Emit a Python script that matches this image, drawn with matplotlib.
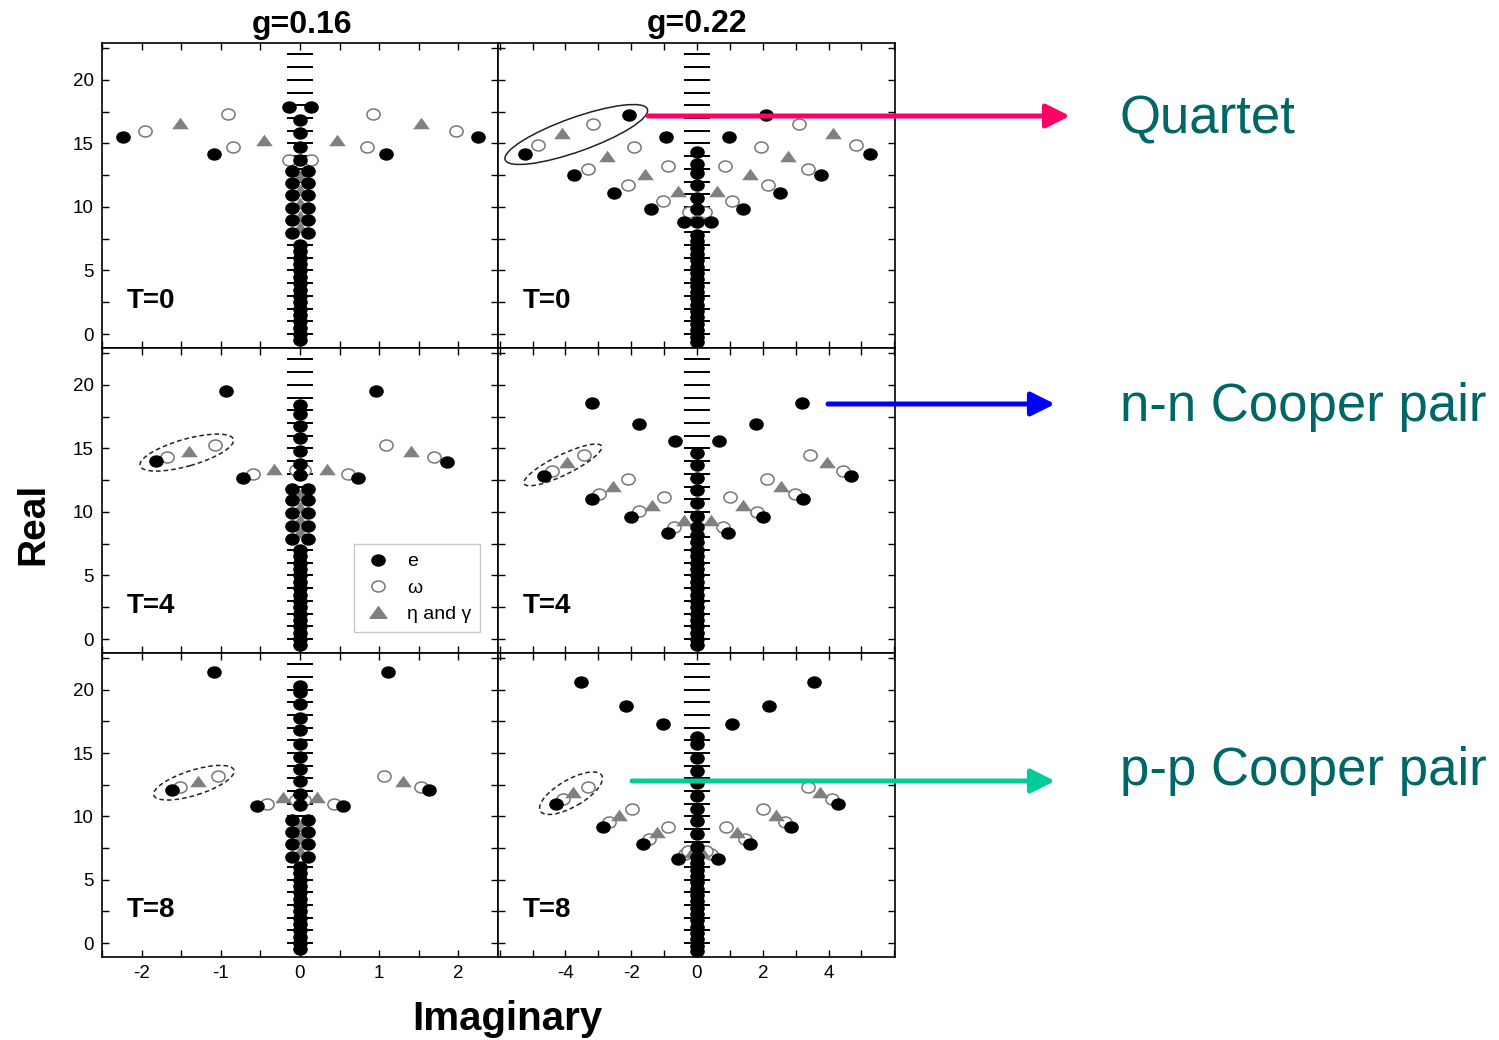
import matplotlib
matplotlib.use('Agg')
import matplotlib.pyplot as plt
import numpy as np
from matplotlib.path import Path
from matplotlib.transforms import Affine2D, ScaledTranslation
from matplotlib.patches import Ellipse, FancyArrowPatch
from matplotlib.lines import Line2D

plt.rcParams['font.family'] = ['Liberation Sans', 'DejaVu Sans']
plt.rcParams['axes.unicode_minus'] = False

couplings = ['g=0.16', 'g=0.22']
temps = ['T=0', 'T=4', 'T=8']
levels = list(range(0, 23))   # unperturbed levels, dashes on the real axis

# ---- g=0.16, T=0 ----
e_16_0 = [(-2.24, 15.5), (2.25, 15.5), (-1.08, 14.2), (1.09, 14.2), (-0.14, 17.9), (0.14, 17.9),
          (-0.1, 12.8), (0.1, 12.8), (-0.1, 11.87), (0.1, 11.87), (-0.1, 10.9), (0.1, 10.9),
          (-0.1, 9.9), (0.1, 9.9), (-0.1, 8.98), (0.1, 8.98), (-0.1, 7.93), (0.1, 7.93)]
real_16_0 = [16.85, 15.8, 14.75, 13.7, 7.0, 6.5, 6.0, 5.5, 5.0, 4.5, 4.0, 3.5, 3.0, 2.5, 2.0,
             1.5, 1.0, 0.5, 0.0, -0.5]
w_16_0 = [(-1.96, 16.0), (1.97, 16.0), (-0.91, 17.3), (0.92, 17.3), (-0.84, 14.7), (0.85, 14.7),
          (-0.14, 13.7), (0.14, 13.7)]
h_16_0 = [(-1.52, 16.6), (1.53, 16.6), (-0.46, 15.3), (0.47, 15.3), (0, 12.4), (0, 11.3),
          (0, 10.3), (0, 9.3), (0, 8.4)]

# ---- g=0.22, T=0 ----
e_22_0 = [(-5.23, 14.2), (5.26, 14.2), (-2.06, 17.2), (2.09, 17.2), (-0.95, 15.5), (0.97, 15.5),
          (-3.73, 12.5), (3.77, 12.5), (-2.51, 11.1), (2.52, 11.1), (-1.40, 9.84), (1.41, 9.84),
          (-0.4, 8.8), (0.43, 8.8)]
real_22_0 = [14.35, 13.4, 12.65, 11.7, 10.7, 9.8, 8.8, 7.8, 7.3, 6.8, 6.3, 5.8, 5.3, 4.8, 4.3,
             3.8, 3.3, 2.8, 2.3, 1.8, 1.3, 0.8, 0.3, -0.2, -0.6]
w_22_0 = [(-4.82, 14.9), (4.82, 14.9), (-3.15, 16.5), (3.1, 16.5), (-1.91, 14.75), (1.95, 14.7),
          (-3.32, 13.0), (3.36, 13.0), (-0.89, 13.25), (0.85, 13.25), (-2.11, 11.7), (2.17, 11.7),
          (-1.02, 10.47), (1.07, 10.47), (-0.25, 9.6), (0.25, 9.6)]
h_22_0 = [(-4.11, 15.8), (4.14, 15.8), (-2.73, 14.0), (2.76, 14.0), (-1.58, 12.6), (1.61, 12.6),
          (-0.59, 11.26), (0.6, 11.26)]

# ---- g=0.16, T=4 ----
e_16_4 = [(-0.94, 19.5), (0.96, 19.5), (-1.82, 14.0), (1.85, 13.95), (-0.72, 12.65), (0.73, 12.65),
          (-0.1, 11.8), (0.1, 11.8), (-0.1, 10.9), (0.1, 10.9), (-0.1, 9.9), (0.1, 9.9),
          (-0.1, 8.9), (0.1, 8.9), (-0.1, 7.9), (0.1, 7.9)]
real_16_4 = [18.4, 17.7, 16.8, 15.8, 14.8, 13.8, 12.9, 7.0, 6.5, 6.0, 5.5, 5.0, 4.5, 4.0, 3.5,
             3.0, 2.5, 2.0, 1.5, 1.0, 0.5, 0.0, -0.5]
w_16_4 = [(-1.68, 14.3), (1.69, 14.3), (-1.07, 15.3), (1.09, 15.3), (-0.59, 12.97), (0.6, 12.97),
          (-0.05, 13.3), (0.05, 13.3)]
h_16_4 = [(-1.40, 14.8), (1.40, 14.8), (-0.33, 13.4), (0.34, 13.4), (0, 11.35), (0, 10.4),
          (0, 9.4), (0, 8.4)]

# ---- g=0.22, T=4 ----
e_22_4 = [(-3.2, 18.6), (3.2, 18.6), (-1.76, 16.9), (1.79, 16.9), (-0.67, 15.6), (0.68, 15.6),
          (-4.65, 12.8), (4.68, 12.8), (-3.18, 11.0), (3.23, 11.0), (-2.0, 9.6), (2.02, 9.6),
          (-0.89, 8.37), (0.93, 8.37)]
real_22_4 = [14.6, 13.7, 12.65, 11.7, 10.7, 9.7, 8.8, 8.2, 7.6, 7.0, 6.5, 6.0, 5.5, 5.0, 4.5,
             4.0, 3.5, 3.0, 2.5, 2.0, 1.5, 1.0, 0.5, 0.0, -0.5]
w_22_4 = [(-4.4, 13.2), (4.45, 13.2), (-3.43, 14.5), (3.43, 14.5), (-2.98, 11.4), (2.98, 11.4),
          (-2.09, 12.6), (2.12, 12.6), (-1.76, 10.1), (1.81, 10.0), (-1.0, 11.16), (1.0, 11.16),
          (-0.69, 8.8), (0.8, 8.8), (0, 9.6)]
h_22_4 = [(-3.96, 13.96), (3.96, 13.96), (-2.56, 12.07), (2.55, 12.07), (-1.38, 10.55),
          (1.41, 10.55), (-0.39, 9.37), (0.43, 9.37)]

# ---- g=0.16, T=8 ----
e_16_8 = [(-1.09, 21.4), (1.11, 21.4), (-1.61, 12.1), (1.63, 12.1), (-0.54, 10.8), (0.54, 10.8),
          (-0.1, 9.7), (0.1, 9.7), (-0.1, 8.8), (0.1, 8.8), (-0.1, 7.85), (0.1, 7.85),
          (-0.1, 6.8), (0.1, 6.8)]
real_16_8 = [20.3, 19.8, 18.9, 17.8, 16.8, 15.7, 14.7, 13.75, 12.8, 11.8, 10.9, 6.0, 5.5, 5.0,
             4.5, 4.0, 3.5, 3.0, 2.5, 2.0, 1.5, 1.0, 0.5, 0.0, -0.5]
w_16_8 = [(-1.51, 12.36), (1.53, 12.36), (-1.04, 13.2), (1.06, 13.2), (-0.42, 11.0), (0.43, 11.0),
          (-0.05, 11.3), (0.05, 11.3)]
h_16_8 = [(-1.29, 12.83), (1.3, 12.83), (-0.21, 11.5), (0.21, 11.5), (0, 9.25), (0, 8.3), (0, 7.3)]

# ---- g=0.22, T=8 ----
e_22_8 = [(-3.53, 20.6), (3.57, 20.6), (-2.16, 18.7), (2.2, 18.7), (-1.04, 17.3), (1.05, 17.3),
          (-4.29, 10.94), (4.3, 10.94), (-2.85, 9.2), (2.86, 9.2), (-1.63, 7.85), (1.61, 7.85),
          (-0.59, 6.6), (0.63, 6.6)]
real_22_8 = [16.3, 15.7, 14.6, 13.6, 12.6, 11.6, 10.6, 9.6, 8.6, 7.6, 6.8, 6.3, 5.8, 5.3, 4.8,
             4.3, 3.8, 3.3, 2.8, 2.3, 1.8, 1.3, 0.8, 0.3, -0.2, -0.6]
w_22_8 = [(-4.06, 11.4), (4.09, 11.4), (-3.32, 12.36), (3.36, 12.36), (-2.67, 9.55), (2.67, 9.55),
          (-1.98, 10.6), (2.02, 10.6), (-1.46, 8.24), (1.45, 8.24), (-0.87, 9.2), (0.87, 9.2),
          (-0.36, 7.06), (0.43, 7.06), (-0.27, 7.3), (0.27, 7.3)]
h_22_8 = [(-3.76, 11.9), (3.74, 11.9), (-2.37, 10.08), (2.39, 10.08), (-1.23, 8.76), (1.21, 8.76),
          (-0.15, 7.2), (0.15, 7.2)]

panels = [[(e_16_0, real_16_0, w_16_0, h_16_0), (e_22_0, real_22_0, w_22_0, h_22_0)],
          [(e_16_4, real_16_4, w_16_4, h_16_4), (e_22_4, real_22_4, w_22_4, h_22_4)],
          [(e_16_8, real_16_8, w_16_8, h_16_8), (e_22_8, real_22_8, w_22_8, h_22_8)]]

# markers are a bit wider than tall
dot = Path.unit_circle().transformed(Affine2D().scale(1.2, 1.0))
tri = Path([(-0.72, -0.5), (0.72, -0.5), (0.0, 0.5), (-0.72, -0.5)], closed=True)

W, H = 1499, 1040
fig = plt.figure(figsize=(W / 100, H / 100), dpi=100)

col_left = [102, 498]
col_w = [396, 397]
row_top = [43, 348, 653]
row_h = [305, 305, 304]
xlims = [(-2.5, 2.5), (-6.05, 6.02)]


def draw_roots(ax, e, real, w, h):
    ax.plot(np.zeros(len(levels)), levels, ls='none', marker='_', ms=19, mew=1.4,
            color='black', zorder=2)
    if w:
        wx, wy = zip(*w)
        ax.plot(wx, wy, ls='none', marker=dot, ms=9.5, mfc='white', mec='#777777', mew=1.1, zorder=3)
    if h:
        hx, hy = zip(*h)
        ax.plot(hx, hy, ls='none', marker=tri, ms=12, mfc='#808080', mec='#808080', mew=0, zorder=4)
    ex, ey = zip(*e)
    ax.plot(ex, ey, ls='none', marker=dot, ms=9.5, color='black', zorder=5)
    ax.plot(np.zeros(len(real)), real, ls='none', marker=dot, ms=9.5, color='black', zorder=5)


def ring(ax, x, y, wpx, hpx, ang, ls):
    tr = fig.dpi_scale_trans + ScaledTranslation(x, y, ax.transData)
    ax.add_patch(Ellipse((0, 0), wpx / 100, hpx / 100, angle=ang, transform=tr, fill=False,
                         ec='#222222', lw=1.1, ls=ls, zorder=6))


axes = [[None, None] for _ in range(3)]
for r in range(3):
    for c in range(2):
        ax = fig.add_axes([col_left[c] / W, 1 - (row_top[r] + row_h[r]) / H, col_w[c] / W, row_h[r] / H])
        axes[r][c] = ax
        e, real, w, h = panels[r][c]
        draw_roots(ax, e, real, w, h)
        ax.set_xlim(*xlims[c])
        ax.set_ylim(-1.1, 22.9)
        ax.set_yticks([0, 5, 10, 15, 20])
        ax.set_yticks(np.arange(-0.0, 23, 2.5), minor=True)
        if c == 0:
            ax.set_xticks([-2, -1, 0, 1, 2])
            ax.set_xticks(np.arange(-2.5, 2.6, 0.5), minor=True)
        else:
            ax.set_xticks([-4, -2, 0, 2, 4])
            ax.set_xticks(np.arange(-6, 7, 1), minor=True)
        ax.tick_params(which='both', direction='in', top=True, right=True, length=5, width=1,
                       labelsize=13.5, pad=6)
        if c == 1:
            ax.tick_params(labelleft=False)
        if r < 2:
            ax.tick_params(labelbottom=False)
        for s in ax.spines.values():
            s.set_linewidth(1.2)
        ax.text(0.062, 0.13, temps[r], transform=ax.transAxes, fontsize=20,
                fontweight='bold', va='baseline')

# circled groups
ring(axes[0][1], -3.67, 15.7, 151, 34, 19.6, '-')
ring(axes[1][0], -1.43, 14.67, 97, 27, 15.8, (0, (3, 2)))
ring(axes[1][1], -4.08, 13.7, 86, 20, 26, (0, (3, 2)))
ring(axes[2][0], -1.34, 12.66, 84, 25, 17.4, (0, (3, 2)))
ring(axes[2][1], -3.83, 11.83, 71, 27, 30, (0, (3, 2)))

handles = [Line2D([], [], ls='none', marker=dot, ms=9.5, color='black'),
           Line2D([], [], ls='none', marker=dot, ms=9.5, mfc='white', mec='#777777', mew=1.1),
           Line2D([], [], ls='none', marker=tri, ms=12, color='#808080')]
leg = axes[1][0].legend(handles, ['e', 'ω', 'η and γ'], loc='lower right',
                        bbox_to_anchor=(0.955, 0.069), borderaxespad=0, fontsize=14,
                        frameon=True, fancybox=False, edgecolor='#bbbbbb', handlelength=1.6,
                        labelspacing=0.45, borderpad=0.45, handletextpad=0.7)
leg.get_frame().set_linewidth(1.0)

# column titles and axis names
fig.text(302 / W, 1 - 33 / H, couplings[0], fontsize=23, fontweight='bold', ha='center', va='baseline')
fig.text(697 / W, 1 - 32 / H, couplings[1], fontsize=23, fontweight='bold', ha='center', va='baseline')
fig.text(507 / W, 1 - 1030 / H, 'Imaginary', fontsize=29, fontweight='bold', ha='center', va='baseline')
fig.text(33 / W, 1 - 524 / H, 'Real', fontsize=28, fontweight='bold', rotation=90,
         ha='center', va='center')

# pointers to the labelled structures
arrows = [((648, 116), (1070, 116), '#ff0066'),
          ((828, 404), (1055, 404), '#0000ff'),
          ((632, 781), (1055, 781), '#00cc99')]
for (x0, y0), (x1, y1), col in arrows:
    fig.add_artist(FancyArrowPatch((x0 / W, 1 - y0 / H), (x1 / W, 1 - y1 / H),
                                   transform=fig.transFigure,
                                   arrowstyle='-|>,head_length=0.4,head_width=0.2',
                                   mutation_scale=36, lw=3.6, color=col,
                                   shrinkA=0, shrinkB=0, zorder=10))

labels = [('Quartet', 133), ('n-n Cooper pair', 421), ('p-p Cooper pair', 785)]
for txt, yb in labels:
    fig.text(1120 / W, 1 - yb / H, txt, fontsize=38, color='#006666', va='baseline')

fig.savefig('out.png', dpi=100)
